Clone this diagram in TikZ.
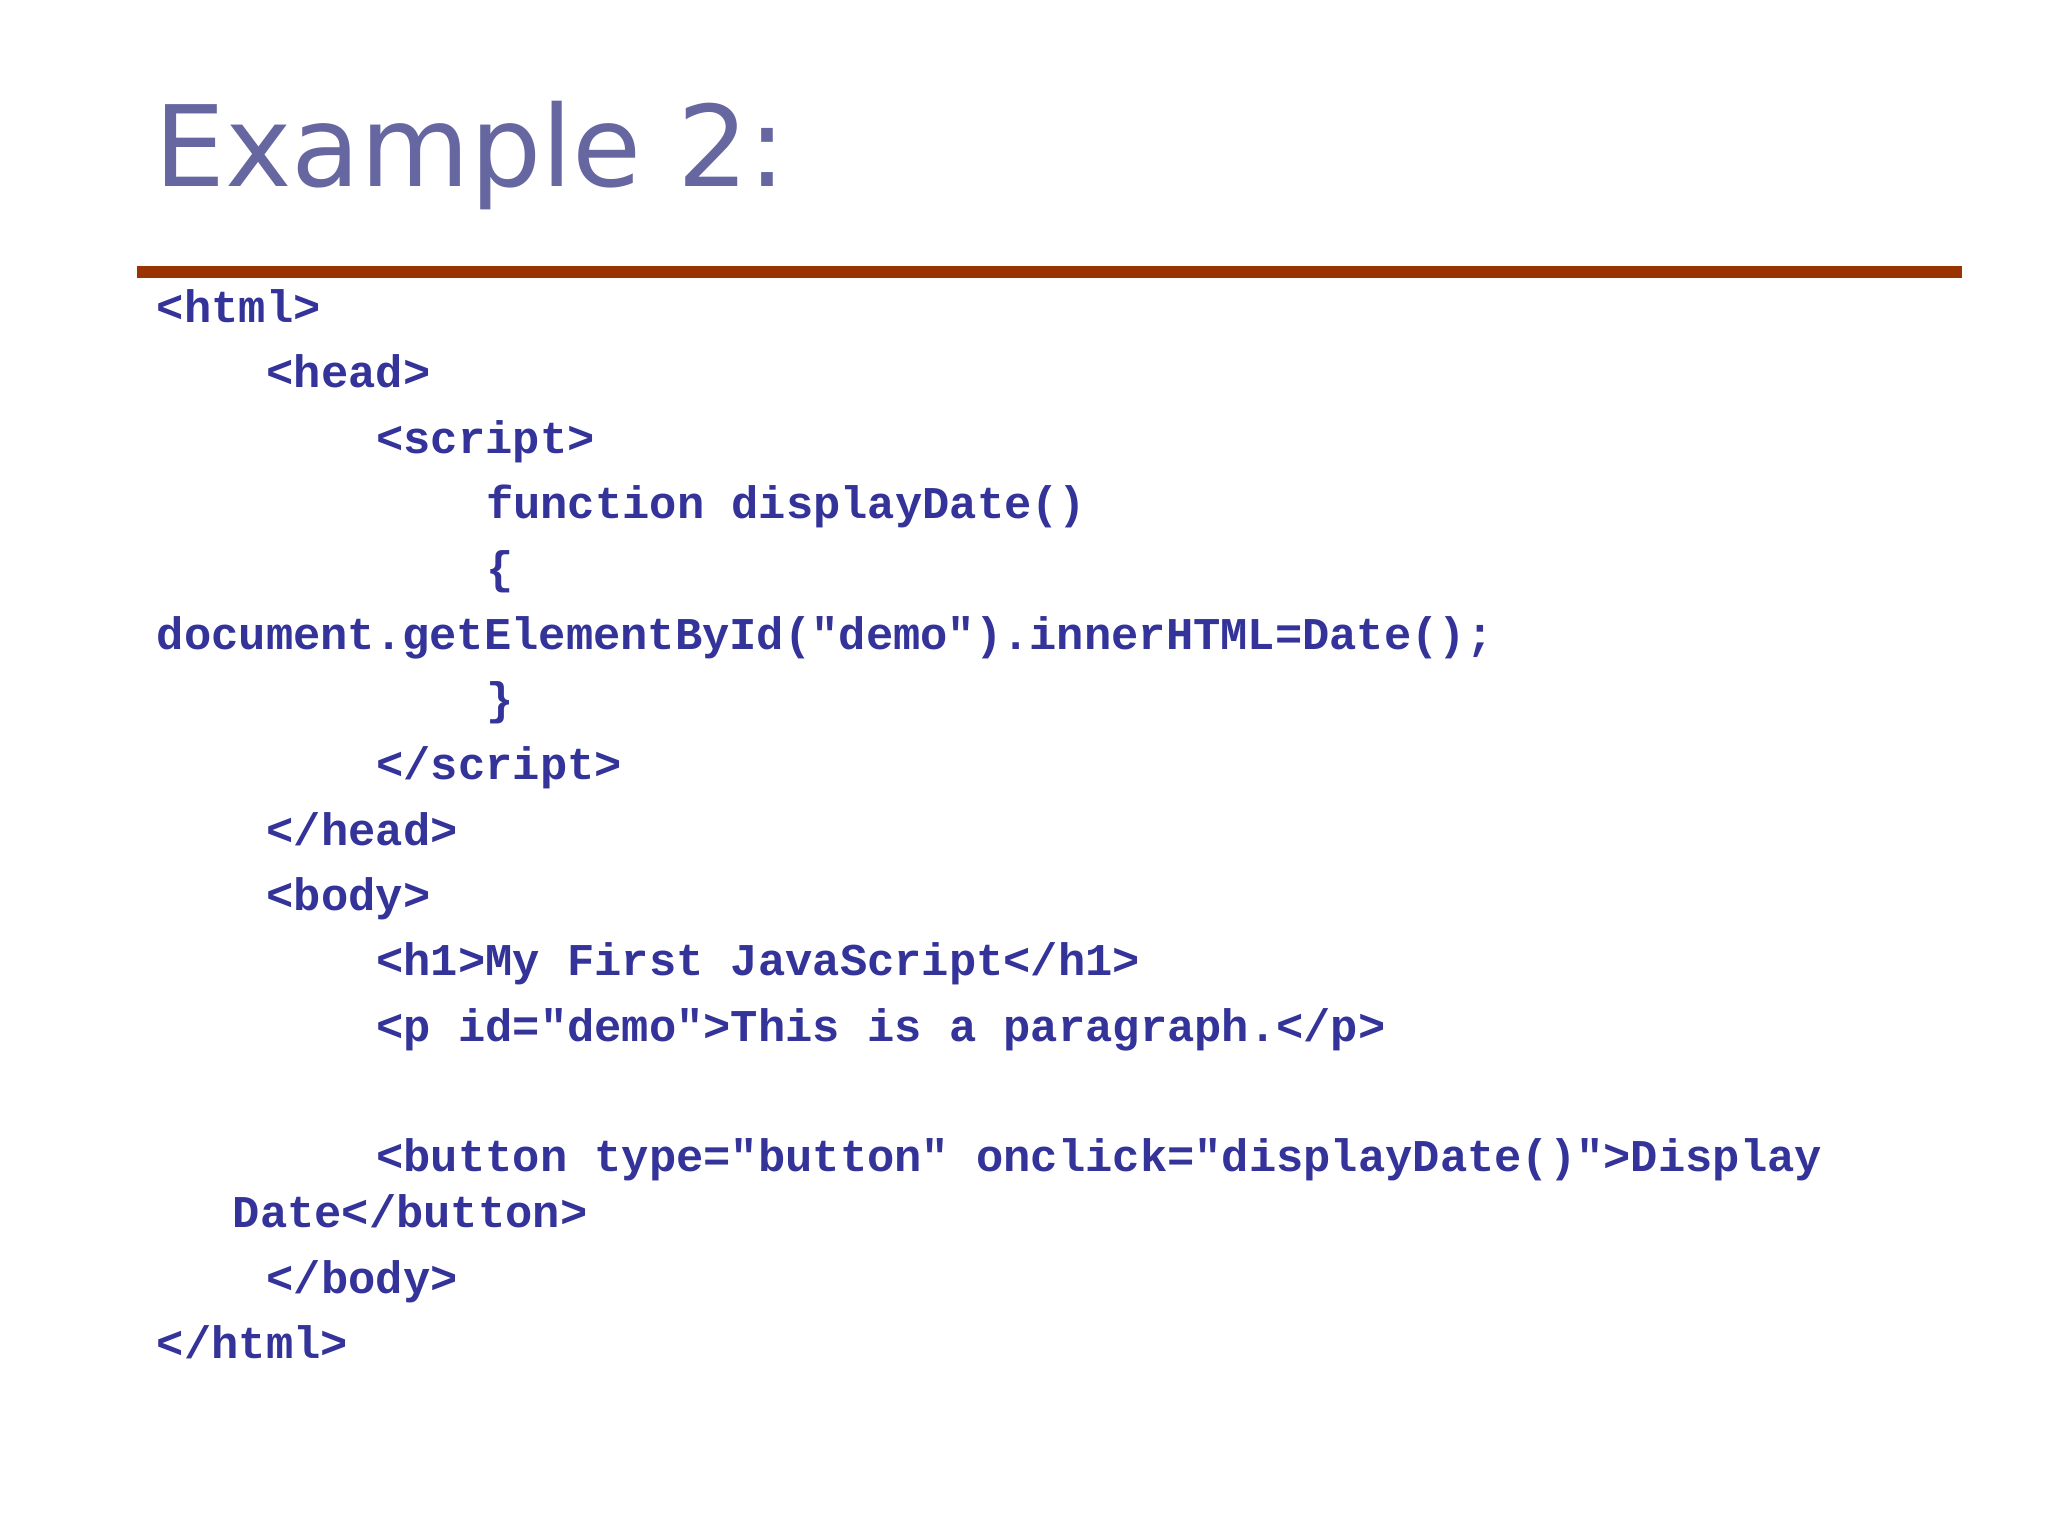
\documentclass[tikz,border=0pt]{standalone}
\usepackage{fontspec}
\setmainfont{DejaVu Sans}
\newfontfamily\codefont{Liberation Mono}
\definecolor{titleblue}{HTML}{6666A0}
\definecolor{codeblue}{HTML}{333399}
\definecolor{rulebrown}{HTML}{993300}
\begin{document}
\begin{tikzpicture}[x=1pt,y=-1pt,
  code/.style={anchor=base west,inner sep=0pt,text=codeblue,font=\codefont\bfseries\fontsize{34.8}{40}\selectfont},
  ttl/.style={anchor=base west,inner sep=0pt,text=titleblue,font=\fontsize{86}{96}\selectfont}]
\useasboundingbox[fill=white] (0,0) rectangle (1568,1176);
\node[ttl] (title) at (118,143) {Example 2:};
\draw[rulebrown,line width=9pt] (105,208) coordinate (r1) -- (1502,208) coordinate (r2);
\node[code] (l1) at (120,247) {<html>};
\node[code] (l2) at (204,297) {<head>};
\node[code] (l3) at (288,347) {<script>};
\node[code] (l4) at (372,397) {function displayDate()};
\node[code] (l5) at (372,447) {\{};
\node[code] (l6) at (120,497) {document.getElementById("demo").innerHTML=Date();};
\node[code] (l7) at (372,547) {\}};
\node[code] (l8) at (288,597) {</script>};
\node[code] (l9) at (204,647) {</head>};
\node[code] (l10) at (204,697) {<body>};
\node[code] (l11) at (288,747) {<h1>My First JavaScript</h1>};
\node[code] (l12) at (288,797) {<p id="demo">This is a paragraph.</p>};
\node[code] (l13) at (288,897) {<button type="button" onclick="displayDate()">Display};
\node[code] (l14) at (178,940) {Date</button>};
\node[code] (l15) at (204,990) {</body>};
\node[code] (l16) at (120,1040) {</html>};
\end{tikzpicture}
\end{document}
